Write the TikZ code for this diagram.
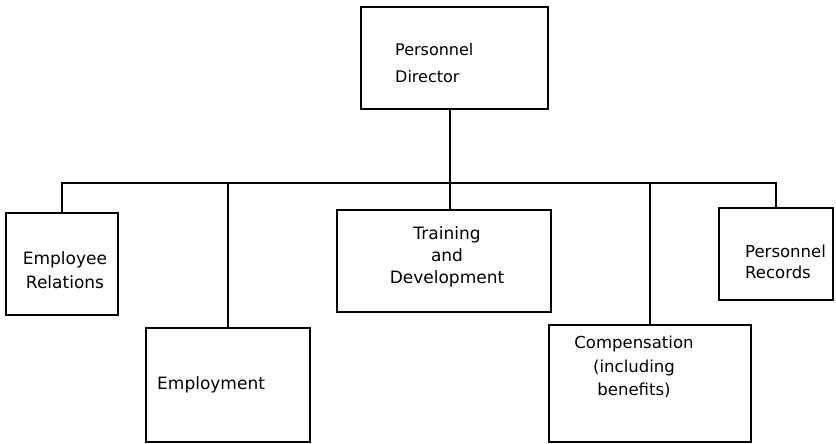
\documentclass[tikz,border=0pt]{standalone}
\usepackage{fontspec}
\setmainfont{DejaVu Sans}
\begin{document}
\begin{tikzpicture}[x=1pt,y=-1pt,
  box/.style={draw, line width=1.8pt, inner sep=0pt},
  txt/.style={inner sep=0pt, align=center, font=\fontsize{17}{24}\selectfont},
  conn/.style={line width=1.8pt}]
\useasboundingbox (0,0) rectangle (836,444);
% boxes
\node[box, minimum width=187pt, minimum height=102pt] (dir) at (454.5,58) {};
\node[box, minimum width=112pt, minimum height=102pt] (er) at (62,264) {};
\node[box, minimum width=164pt, minimum height=114pt] (emp) at (228,385) {};
\node[box, minimum width=214pt, minimum height=102pt] (tr) at (444,261) {};
\node[box, minimum width=202pt, minimum height=117pt] (comp) at (650,383.5) {};
\node[box, minimum width=114pt, minimum height=92pt] (pr) at (776,254) {};
% texts
\node[txt, align=left, anchor=west, font=\fontsize{16}{27}\selectfont] (dirt) at (395,63) {Personnel\\Director};
\node[txt] (ert) at (65,270) {Employee\\Relations};
\node[txt, anchor=west] (empt) at (157,385) {Employment};
\node[txt, font=\fontsize{17}{22}\selectfont] (trt) at (447,257) {Training\\and\\Development};
\node[txt, font=\fontsize{16.5}{23.5}\selectfont] (compt) at (634,367) {Compensation\\(including\\benefits)};
\node[txt, align=left, anchor=west, font=\fontsize{16.5}{21}\selectfont] (prt) at (745,262) {Personnel\\Records};
% connectors
\coordinate (barL) at (61,183);
\coordinate (barR) at (777,183);
\coordinate (trunk) at (450,183);
\draw[conn] (er.north) -- (er.north |- barL) -- (pr.north |- barR) -- (pr.north);
\draw[conn] (trunk |- dir.south) -- (trunk |- tr.north);
\draw[conn] (emp.north) -- (emp.north |- barL);
\draw[conn] (comp.north) -- (comp.north |- barL);
\end{tikzpicture}
\end{document}
